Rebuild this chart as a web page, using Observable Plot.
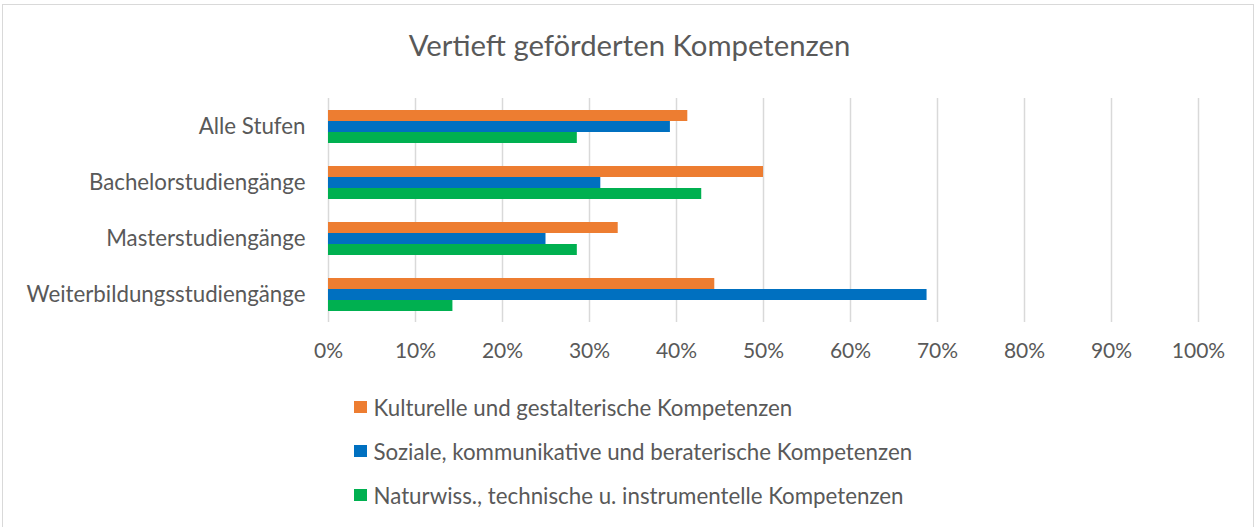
<!DOCTYPE html>
<html>
<head>
<meta charset="utf-8">
<script src="https://cdn.jsdelivr.net/npm/d3@7"></script>
<script src="https://cdn.jsdelivr.net/npm/@observablehq/plot@0.6"></script>
<style>
  html, body { margin: 0; padding: 0; background: #fff; }
  #frame { position: absolute; left: 2px; top: 4px; width: 1252px; height: 530px; border: 1.5px solid #d9d9d9; box-sizing: border-box; }
  #wrap { position: absolute; left: 0; top: 0; width: 1259px; height: 527px; font-family: Lato, "Open Sans", sans-serif; color: #595959; }
  #title { position: absolute; left: 0; top: 0; width: 1259px; height: 80px; line-height: 90px; text-align: center; font-size: 29.3px; }
  #chart { position: absolute; left: 0; top: 80px; }
  #legend { position: absolute; left: 354px; top: 385px; font-size: 22.3px; }
  .row { height: 44px; display: flex; align-items: center; }
  .sw { width: 12.5px; height: 12.5px; margin-right: 7px; }
</style>
</head>
<body>
<div id="frame"></div>
<div id="wrap">
  <div id="title"></div>
  <div id="chart"></div>
  <div id="legend"></div>
</div>
<script>
const titleText = "Vertieft geförderten Kompetenzen";
const categories = ["Alle Stufen", "Bachelorstudiengänge", "Masterstudiengänge", "Weiterbildungsstudiengänge"];
const seriesNames = [
  "Kulturelle und gestalterische Kompetenzen",
  "Soziale, kommunikative und beraterische Kompetenzen",
  "Naturwiss., technische u. instrumentelle Kompetenzen"
];
const seriesColors = ["#ED7D31", "#0070C0", "#00B050"];
const kulturelle = [41.3, 50.0, 33.3, 44.4];
const soziale = [39.3, 31.3, 25.0, 68.8];
const naturwiss = [28.6, 42.9, 28.6, 14.3];
const xTicks = [0, 10, 20, 30, 40, 50, 60, 70, 80, 90, 100];

const seriesValues = [kulturelle, soziale, naturwiss];
const data = [];
categories.forEach((c, i) => {
  seriesNames.forEach((s, j) => data.push({category: c, series: s, value: seriesValues[j][i]}));
});

document.getElementById("title").textContent = titleText;

const chart = Plot.plot({
  width: 1259,
  height: 300,
  marginTop: 17,
  marginBottom: 58,
  marginLeft: 328,
  marginRight: 61,
  style: {fontFamily: "Lato, 'Open Sans', sans-serif", fontSize: "21px", color: "#595959", background: "transparent"},
  x: {domain: [0, 100], ticks: xTicks, tickFormat: d => d + "%", tickSize: 0, tickPadding: 21, label: null},
  y: {domain: seriesNames, axis: null, paddingInner: 0, paddingOuter: 0.88},
  fy: {domain: categories, padding: 0, label: null},
  color: {domain: seriesNames, range: seriesColors},
  marks: [
    Plot.ruleX(xTicks, {stroke: "#d9d9d9", strokeWidth: 1.5}),
    Plot.barX(data, {x: "value", y: "series", fy: "category", fill: "series"}),
    Plot.axisFy({anchor: "left", tickSize: 0, tickPadding: 23, fontSize: 22.3, label: null})
  ]
});
document.getElementById("chart").appendChild(chart);

const legend = document.getElementById("legend");
seriesNames.forEach((s, j) => {
  const row = document.createElement("div");
  row.className = "row";
  const sw = document.createElement("div");
  sw.className = "sw";
  sw.style.background = seriesColors[j];
  const t = document.createElement("span");
  t.textContent = s;
  row.appendChild(sw);
  row.appendChild(t);
  legend.appendChild(row);
});
</script>
</body>
</html>
